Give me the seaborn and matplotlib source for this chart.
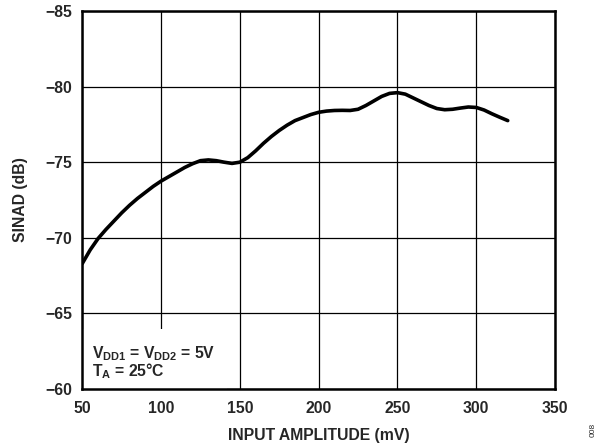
import numpy as np
import pandas as pd
import seaborn as sns
import matplotlib.pyplot as plt
from matplotlib.patches import Rectangle

sns.set_theme(style="white")
plt.rcParams['font.family'] = ['Liberation Sans', 'DejaVu Sans']
plt.rcParams['mathtext.fontset'] = 'custom'
plt.rcParams['mathtext.rm'] = 'Liberation Sans'
plt.rcParams['mathtext.bf'] = 'Liberation Sans:bold'

# values
amplitude_mv = [50, 55, 60, 65, 70, 75, 80, 85, 90, 95, 100, 105, 110, 115, 120,
                125, 130, 135, 140, 145, 150, 155, 160, 165, 170, 175, 180, 185,
                190, 195, 200, 205, 210, 215, 220, 225, 230, 235, 240, 245, 250,
                255, 260, 265, 270, 275, 280, 285, 290, 295, 300, 305, 310, 315, 320]
sinad_db = [-68.3, -69.2, -69.95, -70.55, -71.1, -71.65, -72.15, -72.6, -73.0, -73.4,
            -73.75, -74.05, -74.35, -74.65, -74.9, -75.1, -75.15, -75.1, -75.0, -74.92,
            -75.0, -75.3, -75.75, -76.25, -76.7, -77.1, -77.45, -77.75, -77.95, -78.15,
            -78.3, -78.38, -78.42, -78.43, -78.42, -78.5, -78.75, -79.05, -79.35, -79.55,
            -79.6, -79.5, -79.25, -79.0, -78.75, -78.55, -78.47, -78.5, -78.58, -78.65,
            -78.62, -78.45, -78.2, -77.97, -77.75]
x_ticks = [50, 100, 150, 200, 250, 300, 350]
y_ticks = [-85, -80, -75, -70, -65, -60]

df = pd.DataFrame({'amp': amplitude_mv, 'sinad': sinad_db})

fig = plt.figure(figsize=(6.03, 4.47), dpi=100)
ax = fig.add_axes([0.1365, 0.1298, 0.7839, 0.8456])

sns.lineplot(data=df, x='amp', y='sinad', ax=ax, color='black', linewidth=2.6,
             zorder=3, sort=False)

ax.set_xlim(50, 350)
ax.set_ylim(-60, -85)
ax.set_xticks(x_ticks)
ax.set_yticks(y_ticks)
ax.grid(True, color='black', linewidth=0.9)
ax.set_axisbelow(True)
for s in ax.spines.values():
    s.set_color('black')
    s.set_linewidth(1.8)
ax.tick_params(length=0, labelsize=11.3)
ax.tick_params(axis='x', pad=9)
ax.tick_params(axis='y', pad=7)
for lab in ax.get_xticklabels() + ax.get_yticklabels():
    lab.set_fontweight('bold')

ax.set_xlabel('INPUT AMPLITUDE (mV)', fontsize=11.3, fontweight='bold', labelpad=8)
ax.set_ylabel('SINAD (dB)', fontsize=11.3, fontweight='bold', labelpad=13)

# white area behind the conditions note hides the grid line there
ax.add_patch(Rectangle((50, -60), 92, -4.0, facecolor='white', edgecolor='none', zorder=1))
ax.text(56, -62.35, r'V$_{\mathbf{DD1}}$ = V$_{\mathbf{DD2}}$ = 5V', fontsize=11.3,
        fontweight='bold', va='center', ha='left', zorder=4)
ax.text(56, -61.15, r'T$_{\mathbf{A}}$ = 25°C', fontsize=11.3,
        fontweight='bold', va='center', ha='left', zorder=4)

fig.text(0.983, 0.022, '008', fontsize=6, rotation=90, ha='center', va='bottom')

fig.savefig('out.png', dpi=100)
